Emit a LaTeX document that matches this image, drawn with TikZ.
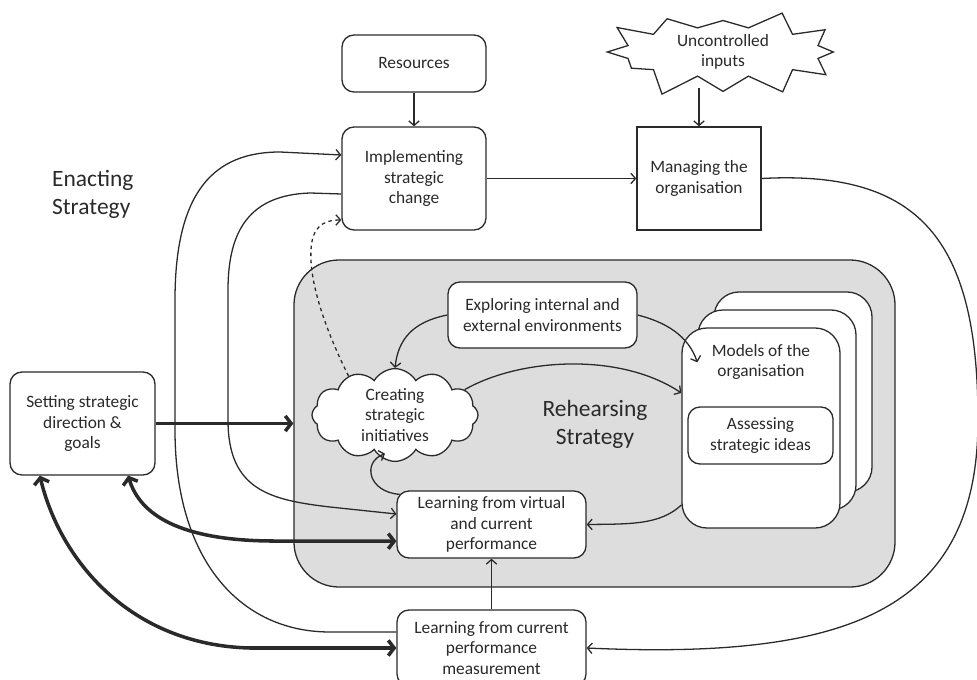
\documentclass[tikz,border=0pt]{standalone}
\usepackage{fontspec}
\setmainfont{Carlito}
\usetikzlibrary{shapes.symbols,arrows.meta,positioning,calc}
\definecolor{rehgray}{HTML}{DDDDDD}
\definecolor{ink}{HTML}{2A2A2A}

\begin{document}
\begin{tikzpicture}[x=0.03cm, y=-0.03cm, color=ink,
  box/.style={draw, rounded corners=0.36cm, fill=white, align=center, inner sep=2pt, font=\fontsize{14.8}{17.5}\selectfont, line width=1.1pt},
  sqbox/.style={box, rounded corners=0pt},
  modbox/.style={draw, rounded corners=0.75cm, fill=white, minimum width=4.74cm, minimum height=6cm, line width=1.1pt},
  txt/.style={align=center, font=\fontsize{14.8}{17.5}\selectfont},
  bigtxt/.style={align=center, font=\fontsize{20}{24}\selectfont},
  region/.style={draw, fill=rehgray, rounded corners=1.35cm, minimum width=18.03cm, minimum height=9.81cm, line width=1.1pt},
  idea/.style={cloud, draw, fill=white, cloud puffs=12, cloud puff arc=120, aspect=1.8, minimum width=4.98cm, minimum height=2.7cm, inner sep=0pt, align=center, font=\fontsize{14.8}{17.5}\selectfont, line width=1.1pt},
  burst/.style={starburst, draw, fill=white, starburst points=12, starburst point height=0.75cm, random starburst=23, minimum width=7.4cm, minimum height=1.95cm, inner sep=0pt, align=center, font=\fontsize{14.8}{17.5}\selectfont, line width=1.1pt},
  flow/.style={-{Straight Barb[length=4pt,width=9pt]}, line width=1.1pt},
  bold/.style={-{Straight Barb[length=5pt,width=13pt]}, line width=3pt},
  both/.style={{Straight Barb[length=5pt,width=13pt]}-{Straight Barb[length=5pt,width=13pt]}, line width=3pt},
]
\useasboundingbox (0,0) rectangle (977,680);

% rehearsing area and the stack of models
\node[region] (reh) at (594.5,423.5) {};
\node[modbox] (mod3) at (793,392) {};
\node[modbox] (mod2) at (777,410) {};
\node[modbox] (mod1) at (761,428) {};
\node[txt] (modtxt) at (761,362) {Models of the\\organisation};
\node[box, minimum width=4.35cm, minimum height=1.71cm] (asse) at (760.5,435.5) {Assessing\\strategic ideas};
\node[bigtxt] (rehtxt) at (595,424) {Rehearsing\\Strategy};

% enacting side
\node[bigtxt, anchor=west, align=left] (enact) at (48,194) {Enacting\\Strategy};
\node[box, minimum width=4.32cm, minimum height=1.71cm] (res) at (414,63.5) {Resources};
\node[box, minimum width=4.32cm, minimum height=3.09cm] (impl) at (414,178.5) {Implementing\\strategic\\change};
\node[burst] (unc) at (723,52) {Uncontrolled\\inputs};
\node[sqbox, minimum width=3.72cm, minimum height=3.09cm] (mng) at (699,178.5) {Managing the\\organisation};
\node[box, minimum width=4.35cm, minimum height=3.09cm] (set) at (82.5,423.5) {Setting strategic\\direction \&\\goals};

% inside the rehearsal
\node[box, minimum width=5.67cm, minimum height=1.98cm] (expl) at (542.5,315) {Exploring internal and\\external environments};
\node[idea] (cre) at (395,415) {Creating\\strategic\\initiatives};
\node[box, minimum width=5.67cm, minimum height=2.01cm] (lvirt) at (491.5,524.5) {Learning from virtual\\and current\\performance};
\node[box, minimum width=5.67cm, minimum height=2.28cm] (lcur) at (491.5,648) {Learning from current\\performance\\measurement};

% straight feeds
\draw[flow] (res) -- (impl);
\draw[flow] (mng.north |- 0,88) -- (mng);
\draw[flow] (impl) -- (mng);
\draw[flow] (lcur) -- (lvirt);
\draw[bold] (set.east) -- (set.east -| reh.west);

% managing feeds back to measurement, round the right side
\draw[flow] (mng.east) .. controls (920,170) and (978,240) .. (978,420)
  .. controls (978,610) and (850,660) .. (lcur.east);

% outer loops on the left
\draw[flow] (lcur.west |- 0,632) -- (330,632) .. controls (240,632) and (175,560) .. (175,430)
  -- (175,300) .. controls (175,190) and (215,152) .. (280,152) -- (impl.west |- 0,155);
\draw[flow] (impl.west |- 0,194) -- (310,193) .. controls (250,195) and (228,230) .. (228,290)
  -- (228,420) .. controls (228,490) and (270,500) .. (330,507) -- (lvirt.west |- 0,514);
\draw[flow, dashed] (cre.140) .. controls (328,335) and (309,285) .. (311,250)
  .. controls (312,228) and (322,220) .. (impl.west |- 0,220);

% cycle inside the rehearsal
\draw[flow] (expl.west) .. controls (412,322) and (398,340) .. (cre.north);
\draw[flow] (expl.east) .. controls (665,322) and (688,335) .. ([shift={(0.48cm,-1.05cm)}]mod1.north west);
\draw[flow] (cre.20) .. controls (520,358) and (620,352) .. ([yshift=1.05cm]mod1.west);
\draw[flow] ([yshift=-2.31cm]mod1.west) .. controls (660,525) and (630,524) .. (lvirt.east);
\draw[flow] ([xshift=0.1cm,yshift=-0.12cm]lvirt.north west) .. controls (368,492) and (362,462) .. ([xshift=-0.3cm,yshift=0.25cm]cre.south);

% goals talk both ways with the learning boxes
\draw[both] ([xshift=1.37cm]set.south) .. controls (140,515) and (180,540) .. (270,541) -- ([yshift=-0.5cm]lvirt.west);
\draw[both] ([xshift=-1.28cm]set.south) .. controls (60,560) and (130,645) .. (250,648) -- (lcur.west);
\end{tikzpicture}
\end{document}
